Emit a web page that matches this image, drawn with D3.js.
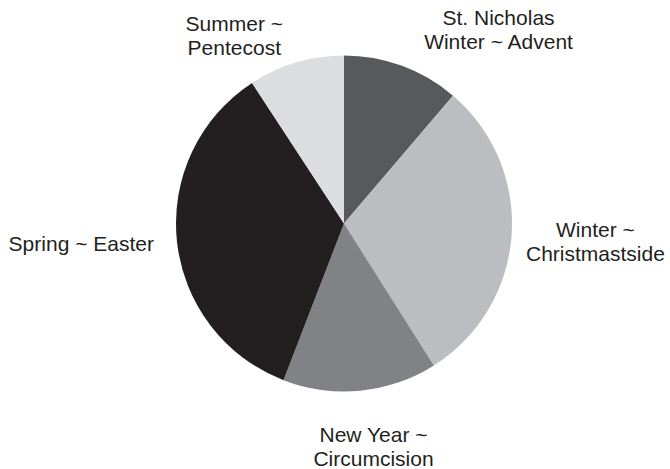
<!DOCTYPE html>
<html>
<head>
<meta charset="utf-8">
<script src="https://cdn.jsdelivr.net/npm/d3@7"></script>
<style>
  html, body { margin: 0; padding: 0; background: #ffffff; }
  svg { display: block; }
  text { font-family: "Liberation Sans", Arial, Helvetica, sans-serif; font-size: 21px; fill: #231f20; }
</style>
</head>
<body>
<svg id="chart" width="670" height="469"></svg>
<script>
// Data
const categories = [
  "St. Nicholas\nWinter ~ Advent",
  "Winter ~\nChristmastside",
  "New Year ~\nCircumcision",
  "Spring ~ Easter",
  "Summer ~\nPentecost"
];
const values = [11.24, 29.78, 14.85, 34.92, 9.22];
const colors = ["#58595b", "#bcbdc0", "#808285", "#231f20", "#dcdddf"];

// Layout
const W = 670, H = 469;
const cx = 344, cy = 223.5, R = 168;
const labelR = 230;
const labelNudge = [[75, 22], [22, 2], [7, -6], [-34, -4], [-44, 32]];
const lineH = 24;

const svg = d3.select("#chart");
const g = svg.append("g").attr("transform", `translate(${cx},${cy})`);

const data = categories.map((c, i) => ({ label: c, value: values[i], color: colors[i] }));
const pie = d3.pie().value(d => d.value).sort(null).startAngle(0).endAngle(2 * Math.PI);
const arcs = pie(data);
const arc = d3.arc().innerRadius(0).outerRadius(R);

g.selectAll("path.slice").data(arcs).enter().append("path")
  .attr("class", "slice")
  .attr("d", arc)
  .attr("fill", d => d.data.color);

const labelArc = d3.arc().innerRadius(labelR).outerRadius(labelR);
const lbl = g.selectAll("g.lbl").data(arcs).enter().append("g")
  .attr("class", "lbl")
  .attr("transform", (d, i) => {
    const [x, y] = labelArc.centroid(d);
    return `translate(${x + labelNudge[i][0]},${y + labelNudge[i][1]})`;
  });

lbl.each(function(d) {
  const lines = d.data.label.split("\n");
  const t = d3.select(this).append("text").attr("text-anchor", "middle");
  const n = lines.length;
  lines.forEach((ln, k) => {
    const off = (k - (n - 1) / 2) * lineH + 7.5;
    t.append("tspan").attr("x", 0).attr("y", off).text(ln);
  });
});
</script>
</body>
</html>
